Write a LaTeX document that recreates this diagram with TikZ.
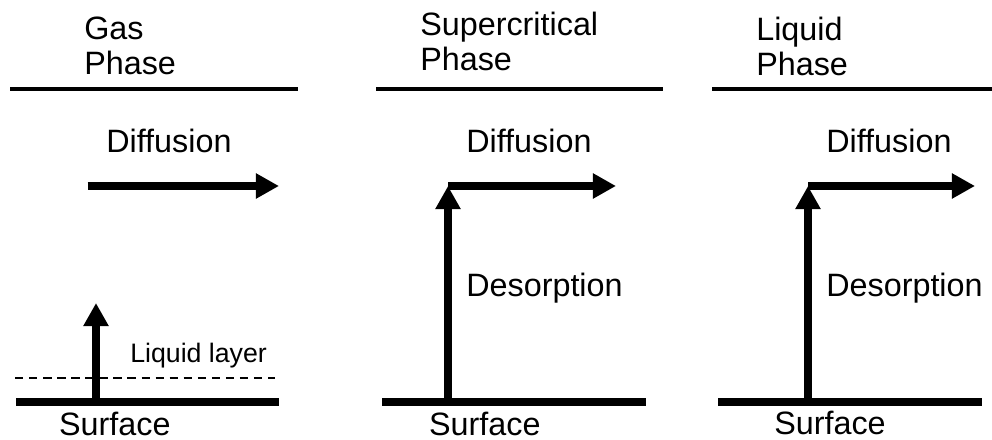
\documentclass[tikz,border=0pt]{standalone}
\usepackage{fontspec}
\setmainfont{Liberation Sans}
\usetikzlibrary{arrows.meta}

\begin{document}
\begin{tikzpicture}[
        phasetitle/.style={font=\fontsize{23}{25}\selectfont, inner sep=0pt, anchor=north west, align=left},
        lbl/.style={font=\fontsize{23}{25}\selectfont, inner sep=0pt, anchor=base west},
        smalllbl/.style={font=\fontsize{19}{22}\selectfont, inner sep=0pt, anchor=base west},
        boundary/.style={line width=2.3pt},
        surfline/.style={line width=0.2cm},
        layerline/.style={line width=1pt, dash pattern=on 6pt off 4pt},
        flow/.style={-{Triangle[length=0.58cm, width=0.6cm]}, line width=0.18cm}
      ]
      \useasboundingbox (0,0) rectangle (24.8,11);

      % gas phase
      \node[phasetitle] (gas) at (2.1,10.58) {Gas\\Phase};
      \draw[boundary] (0.25,8.775) -- (7.45,8.775);
      \node[lbl] (gasdiff) at (2.65,7.175) {Diffusion};
      \coordinate (gasdiffa) at (2.19,6.35);
      \coordinate (gasdiffb) at (6.975,6.35);
      \draw[flow] (gasdiffa) -- (gasdiffb);
      \node[smalllbl] (layer) at (3.25,1.925) {Liquid layer};
      \draw[layerline] (0.375,1.55) -- (6.875,1.55);
      \draw[surfline] (0.4,0.96) -- (6.975,0.96);
      \coordinate (gasup) at (2.4,0.96);
      \coordinate (gastip) at (2.4,3.425);
      \draw[flow] (gasup) -- (gastip);
      \node[lbl] (gassurf) at (1.47,0.12) {Surface};

      % supercritical phase
      \node[phasetitle] (sc) at (10.5,10.7) {Supercritical\\Phase};
      \draw[boundary] (9.4,8.775) -- (16.575,8.775);
      \node[lbl] (scdiff) at (11.65,7.175) {Diffusion};
      \node[lbl] (scdes) at (11.65,3.575) {Desorption};
      \draw[surfline] (9.55,0.96) -- (16.15,0.96);
      \coordinate (scup) at (11.2,0.96);
      \coordinate (sccorner) at (11.2,6.35);
      \coordinate (scend) at (15.4,6.35);
      \draw[flow] (sccorner) -- (scend);
      \draw[flow] (scup) -- (sccorner);
      \node[lbl] (scsurf) at (10.72,0.12) {Surface};

      % liquid phase
      \node[phasetitle] (liq) at (18.9,10.58) {Liquid\\Phase};
      \draw[boundary] (17.8,8.775) -- (24.8,8.775);
      \node[lbl] (liqdiff) at (20.65,7.175) {Diffusion};
      \node[lbl] (liqdes) at (20.65,3.575) {Desorption};
      \draw[surfline] (17.95,0.96) -- (24.55,0.96);
      \coordinate (liqup) at (20.2,0.96);
      \coordinate (liqcorner) at (20.2,6.35);
      \coordinate (liqend) at (24.375,6.35);
      \draw[flow] (liqcorner) -- (liqend);
      \draw[flow] (liqup) -- (liqcorner);
      \node[lbl] (liqsurf) at (19.35,0.14) {Surface};
    \end{tikzpicture}
\end{document}
